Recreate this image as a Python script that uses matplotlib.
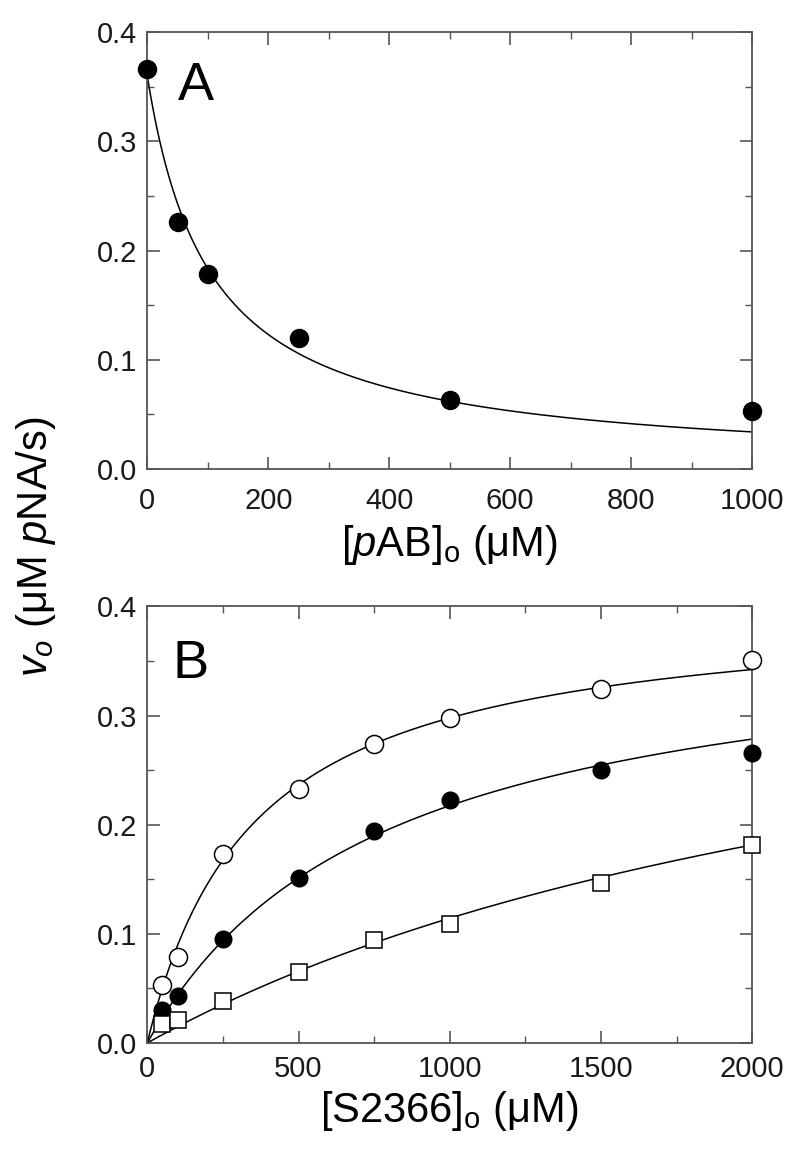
import numpy as np
import matplotlib.pyplot as plt
from matplotlib.ticker import MultipleLocator

plt.rcParams['font.family'] = ['Liberation Sans', 'DejaVu Sans']
plt.rcParams['mathtext.fontset'] = 'custom'
plt.rcParams['mathtext.rm'] = 'Liberation Sans'
plt.rcParams['mathtext.it'] = 'Liberation Sans:italic'

# panel A: inhibition by pAB
pab = [0, 50, 100, 250, 500, 1000]
v_pab = [0.366, 0.226, 0.179, 0.120, 0.063, 0.053]
# fit: v = v0 / (1 + [pAB]/Ki)
fit_a_v0 = 0.36
fit_a_ki = 104

# panel B: substrate curves
s2366 = [50, 100, 250, 500, 750, 1000, 1500, 2000]
v_open = [0.053, 0.079, 0.173, 0.233, 0.274, 0.298, 0.324, 0.351]
v_filled = [0.030, 0.043, 0.095, 0.151, 0.194, 0.223, 0.250, 0.266]
v_square = [0.017, 0.021, 0.038, 0.065, 0.094, 0.109, 0.147, 0.181]
# Michaelis-Menten fit parameters (Vmax, Km) for each series
fit_open = (0.402, 350)
fit_filled = (0.387, 780)
fit_square = (0.44, 2850)

fig = plt.figure(figsize=(7.96, 11.55), dpi=100)
axA = fig.add_axes([0.185, 0.594, 0.76, 0.378])
axB = fig.add_axes([0.185, 0.097, 0.76, 0.378])

def style(ax, xpad):
  for s in ax.spines.values():
    s.set_linewidth(1.3)
    s.set_color('#555555')
  ax.tick_params(which='both', direction='in', top=True, right=True, labelsize=21,
                 color='#555555', labelcolor='#1a1a1a')
  ax.tick_params(axis='y', pad=7)
  ax.tick_params(axis='x', pad=xpad)
  ax.tick_params(which='major', length=9, width=1.2)
  ax.tick_params(which='minor', length=5, width=1.0)
  ax.yaxis.set_major_locator(MultipleLocator(0.1))
  ax.yaxis.set_minor_locator(MultipleLocator(0.05))
  ax.set_ylim(0, 0.4)

# panel A
xa = np.linspace(0, 1000, 400)
axA.plot(xa, fit_a_v0 / (1 + xa / fit_a_ki), color='black', lw=1.1)
axA.plot(pab, v_pab, 'o', color='black', ms=13, clip_on=False, zorder=5)
axA.set_xlim(0, 1000)
axA.xaxis.set_major_locator(MultipleLocator(200))
axA.xaxis.set_minor_locator(MultipleLocator(100))
style(axA, 13)
axA.yaxis.set_major_formatter(plt.FormatStrFormatter('%.1f'))
axA.set_xlabel(r'[$\it{p}$AB]$_\mathrm{o}$ ($\mathrm{\mu}$M)', fontsize=30, labelpad=6)
axA.text(0.05, 0.935, 'A', transform=axA.transAxes, fontsize=39, ha='left', va='top')

# panel B
xb = np.linspace(0, 2000, 400)
for (vm, km) in [fit_open, fit_filled, fit_square]:
  axB.plot(xb, vm * xb / (km + xb), color='black', lw=1.1)
axB.plot(s2366, v_open, 'o', mfc='white', mec='black', mew=1.1, ms=13, clip_on=False, zorder=5)
axB.plot(s2366, v_filled, 'o', color='black', ms=12, clip_on=False, zorder=5)
axB.plot(s2366, v_square, 's', mfc='white', mec='black', mew=1.1, ms=12, clip_on=False, zorder=5)
axB.set_xlim(0, 2000)
axB.xaxis.set_major_locator(MultipleLocator(500))
axB.xaxis.set_minor_locator(MultipleLocator(250))
style(axB, 9)
axB.yaxis.set_major_formatter(plt.FormatStrFormatter('%.1f'))
axB.set_xlabel(r'[S2366]$_\mathrm{o}$ ($\mathrm{\mu}$M)', fontsize=30, labelpad=4)
axB.text(0.041, 0.925, 'B', transform=axB.transAxes, fontsize=39, ha='left', va='top')

# shared y label
fig.text(0.045, 0.527, r'$\it{v_o}$ ($\mathrm{\mu}$M $\it{p}$NA/s)', rotation=90,
         fontsize=30, ha='center', va='center')

fig.savefig('out.png', dpi=100)
